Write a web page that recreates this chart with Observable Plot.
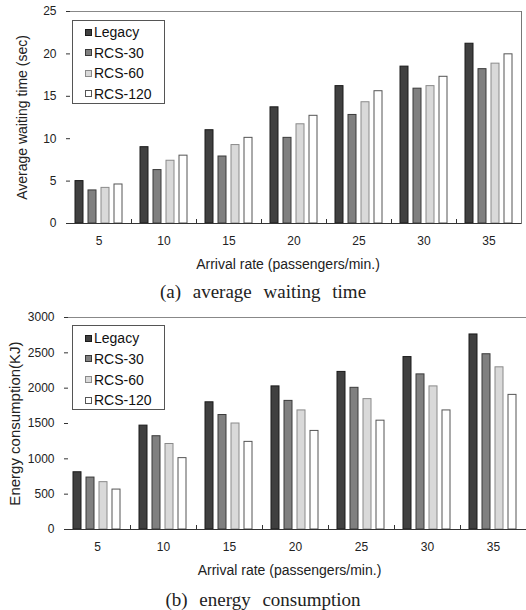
<!DOCTYPE html>
<html>
<head>
<meta charset="utf-8">
<script src="https://cdn.jsdelivr.net/npm/d3@7"></script>
<script src="https://cdn.jsdelivr.net/npm/@observablehq/plot@0.6"></script>
<style>
  body { margin: 0; background: #fff; font-family: "Liberation Sans", Arial, sans-serif; }
  #wrap { position: relative; width: 526px; height: 610px; overflow: hidden; background: #fff; }
  .chart { position: absolute; left: 0; }
  .caption { position: absolute; left: 0; width: 526px; text-align: center; line-height: 22px;
    font-family: "Liberation Serif", "Times New Roman", serif; font-size: 19px; word-spacing: 7px; color: #222; }
  .legend { position: absolute; border: 1px solid #555; background: #fff; box-sizing: border-box; }
  .item { position: absolute; left: 12px; height: 16px; display: flex; align-items: center;
    font-size: 14px; color: #111; white-space: nowrap; }
  .sw { width: 5px; height: 5px; border: 1px solid #222; margin-right: 2px; }
</style>
</head>
<body>
<div id="wrap"></div>
<script>
const rates = [5, 10, 15, 20, 25, 30, 35];
const series = ["Legacy", "RCS-30", "RCS-60", "RCS-120"];

const waitLegacy = [5.0, 9.0, 11.0, 13.7, 16.2, 18.5, 21.2];
const wait30     = [3.9, 6.3, 7.9, 10.1, 12.8, 15.9, 18.2];
const wait60     = [4.2, 7.4, 9.25, 11.7, 14.3, 16.2, 18.85];
const wait120    = [4.6, 8.0, 10.1, 12.7, 15.6, 17.3, 19.95];

const energyLegacy = [810, 1470, 1800, 2025, 2230, 2440, 2760];
const energy30     = [735, 1320, 1620, 1820, 2005, 2195, 2480];
const energy60     = [670, 1210, 1500, 1685, 1845, 2025, 2295];
const energy120    = [565, 1010, 1240, 1395, 1540, 1685, 1905];

const waitTicks = [0, 5, 10, 15, 20, 25];
const energyTicks = [0, 500, 1000, 1500, 2000, 2500, 3000];

const fills = ["#404040", "#808080", "#d9d9d9", "#ffffff"];
const strokes = ["#1a1a1a", "#3a3a3a", "#8a8a8a", "#555555"];

const xLabel = "Arrival rate (passengers/min.)";

function chart(o) {
  const values = o.values;
  const data = [];
  rates.forEach((r, i) => series.forEach((s, j) => data.push({rate: r, series: s, value: values[j][i], k: j})));
  const plotH = o.height - o.marginTop - o.marginBottom;
  const svg = Plot.plot({
    width: 526,
    height: o.height,
    marginTop: o.marginTop,
    marginBottom: o.marginBottom,
    marginLeft: 63,
    marginRight: o.marginRight,
    style: {fontFamily: "Liberation Sans, Arial, sans-serif", fontSize: "12px", color: "#222", background: "#fff", overflow: "visible"},
    fx: {domain: rates, padding: 0, label: null},
    x: {domain: series, paddingInner: 0.356, paddingOuter: 0.678, axis: null},
    y: {domain: [0, o.ticks[o.ticks.length - 1]], axis: null},
    marks: [
      Plot.barY(data, {fx: "rate", x: "series", y: "value", fill: d => fills[d.k], stroke: d => strokes[d.k], strokeWidth: 1}),
      Plot.frame({anchor: "top", stroke: "#888"}),
      Plot.frame({anchor: "bottom", stroke: "#333"}),
      Plot.frame({anchor: "right", stroke: "#333", insetTop: plotH - 4}),
      o.rightBorder ? Plot.frame({anchor: "right", stroke: "#777", facetAnchor: "right"}) : null,
      Plot.axisY({ticks: o.ticks, tickFormat: d => String(d), anchor: "left", tickSize: -4, tickPadding: 14, line: true, stroke: "#333",
        label: o.yLabel, labelAnchor: "center", labelArrow: "none", labelOffset: o.labelOffset}),
      Plot.axisFx({anchor: "bottom", tickSize: 0, tickPadding: 13, label: xLabel,
        labelAnchor: "center", labelArrow: "none", labelOffset: 45})
    ]
  });
  d3.select(svg).selectAll("[aria-label='y-axis label'] text").attr("font-size", o.labelSize);
  d3.select(svg).selectAll("[aria-label='fx-axis label'] text").attr("font-size", 14).attr("dx", -6);
  return svg;
}

function legend(top, left, height, ys) {
  const lg = document.createElement("div");
  lg.className = "legend";
  lg.style.top = top + "px";
  lg.style.left = left + "px";
  lg.style.width = "93px";
  lg.style.height = height + "px";
  series.forEach((s, j) => {
    const it = document.createElement("div");
    it.className = "item";
    it.style.top = (ys[j] - 8) + "px";
    const sw = document.createElement("span");
    sw.className = "sw";
    sw.style.background = fills[j];
    sw.style.borderColor = strokes[j];
    const t = document.createElement("span");
    t.textContent = s;
    it.appendChild(sw);
    it.appendChild(t);
    lg.appendChild(it);
  });
  return lg;
}

const wrap = document.getElementById("wrap");

const a = chart({values: [waitLegacy, wait30, wait60, wait120], ticks: waitTicks, height: 275, marginTop: 11, marginBottom: 52,
  marginRight: 2, yLabel: "Average waiting time (sec)", labelOffset: 49, labelSize: 14, rightBorder: true});
a.classList.add("chart");
a.style.top = "0px";
wrap.appendChild(a);
wrap.appendChild(legend(20, 72, 84, [11, 31.5, 52, 72.5]));

const capA = document.createElement("div");
capA.className = "caption";
capA.style.top = "281px";
capA.textContent = "(a) average waiting time";
wrap.appendChild(capA);

const b = chart({values: [energyLegacy, energy30, energy60, energy120], ticks: energyTicks, height: 275, marginTop: 12, marginBottom: 51,
  marginRight: 0, yLabel: "Energy consumption(KJ)", labelOffset: 55, labelSize: 15, rightBorder: false});
b.classList.add("chart");
b.style.top = "305px";
wrap.appendChild(b);
wrap.appendChild(legend(325, 72, 85, [12, 32.5, 53.5, 74]));

const capB = document.createElement("div");
capB.className = "caption";
capB.style.top = "589px";
capB.textContent = "(b) energy consumption";
wrap.appendChild(capB);
</script>
</body>
</html>
